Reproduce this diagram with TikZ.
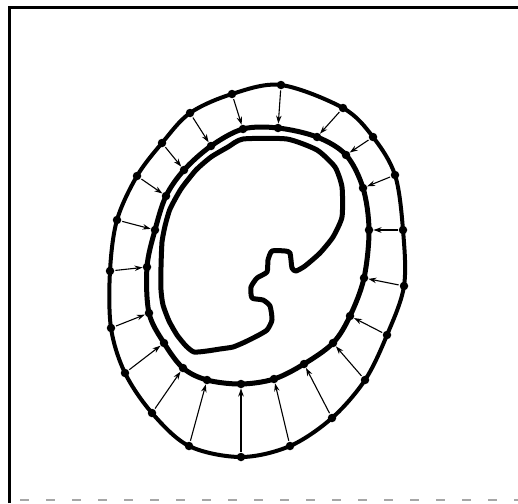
\documentclass[tikz,border=0pt]{standalone}
\usetikzlibrary{arrows.meta}
\begin{document}
\begin{tikzpicture}[x=1pt,y=-1pt,
  dotnode/.style={circle,fill=black,inner sep=0pt,minimum size=8.5pt},
  ringline/.style={line width=4pt,line join=round},
  innerline/.style={line width=5pt,line join=round},
  objline/.style={line width=5pt,line join=round},
  pointer/.style={line width=1.1pt,-{Stealth[length=8pt,width=5.5pt]},shorten <=1pt,shorten >=0pt},
  frameline/.style={line width=3.5pt}]
\useasboundingbox (0,0) rectangle (518,503);
% frame
\coordinate (fbl) at (9.5,503);
\coordinate (ftl) at (9.5,7.5);
\coordinate (ftr) at (518,7.5);
\draw[frameline] (fbl) -- (ftl) -- (ftr);
\coordinate (bl) at (20,500);
\coordinate (br) at (518,500);
\draw[gray!70,line width=1.5pt,dash pattern=on 9pt off 17pt] (bl) -- (br);
% outer ring points
\foreach \n/\x/\y in {1/281/85,2/232/94,3/190/113,4/162/143,5/137/176,6/117/220,7/110/271,8/111/328,9/125/373,10/152/413,11/189/446,12/241/457,13/290/446,14/332/418,15/365/380,16/387/335,17/404/286,18/403/230,19/395/175,20/373/137,21/343/108}
  \node[dotnode] (o\n) at (\x,\y) {};
% inner ring points
\foreach \n/\x/\y in {1/278/128,2/243/129,3/211/146,4/184/170,5/166/196,6/155/230,7/147/267,8/149/313,9/164/343,10/183/368,11/207/380,12/241/384,13/274/379,14/304/364,15/333/343,16/350/316,17/364/278,18/369/230,19/363/188,20/346/155,21/317/137}
  \node[dotnode] (i\n) at (\x,\y) {};
\draw[ringline] plot[smooth cycle,tension=0.55] coordinates {(o1.center) (o2.center) (o3.center) (o4.center) (o5.center) (o6.center) (o7.center) (o8.center) (o9.center) (o10.center) (o11.center) (o12.center) (o13.center) (o14.center) (o15.center) (o16.center) (o17.center) (o18.center) (o19.center) (o20.center) (o21.center)};
\draw[innerline] plot[smooth cycle,tension=0.55] coordinates {(i1.center) (i2.center) (i3.center) (i4.center) (i5.center) (i6.center) (i7.center) (i8.center) (i9.center) (i10.center) (i11.center) (i12.center) (i13.center) (i14.center) (i15.center) (i16.center) (i17.center) (i18.center) (i19.center) (i20.center) (i21.center)};
% object contour
\draw[objline] plot[smooth cycle,tension=0.35] coordinates {
 (243,139) (287,139) (317,150) (335,167) (342,187) (342,217) (333,237) (320,253) (305,266) (296,271) (292,268) (290,253) (285,251) (272,251) (268,260) (267,272) (257,278) (251,287) (252,298) (263,300) (270,306) (272,320) (267,330) (257,336) (245,342) (233,347) (220,349) (207,351) (194,352) (186,346) (177,335) (169,321) (163,305) (161,290) (161,267) (162,242) (165,226) (170,209) (181,189) (196,170) (211,157) (228,147)};
% arrows
\foreach \n in {1,...,21}
  \draw[pointer] (o\n) -- (i\n);
\end{tikzpicture}
\end{document}
